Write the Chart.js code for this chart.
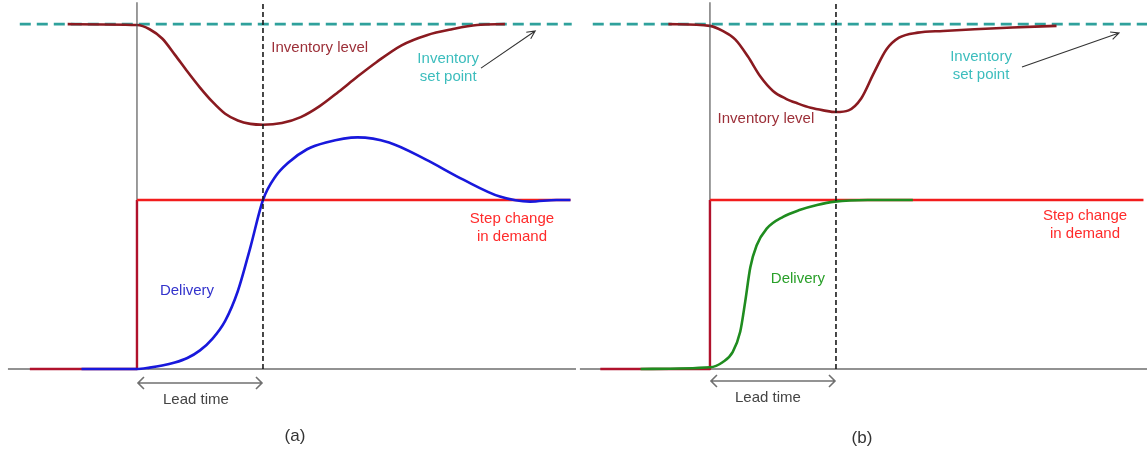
<!DOCTYPE html>
<html>
<head>
<meta charset="utf-8">
<script src="https://cdn.jsdelivr.net/npm/chart.js@4/dist/chart.umd.min.js"></script>
<style>
  html, body { margin: 0; padding: 0; background: #ffffff; }
  #wrap { position: relative; width: 1147px; height: 454px; overflow: hidden; }
  #cA { position: absolute; left: 0; top: 0; }
  #cB { position: absolute; left: 576px; top: 0; }
</style>
</head>
<body>
<div id="wrap">
  <canvas id="cA" width="576" height="454"></canvas>
  <canvas id="cB" width="571" height="454"></canvas>
</div>
<script>
// Time is measured in lead times (demand step at t = 0, deliveries catch up at t = 1).
// Levels are measured in units of the demand step (0 before, 1 after).

const setPoint = 2.04;
const leadTime = 1;

// Panel (a): oscillating delivery response
const invTimeA  = [-0.55, 0, 0.1, 0.2, 0.3, 0.4, 0.5, 0.6, 0.7, 0.8, 0.9, 1.0, 1.15, 1.3, 1.45, 1.6, 1.75, 1.9, 2.1, 2.3, 2.5, 2.7, 2.92];
const invLevelA = [2.04, 2.035, 2.01, 1.955, 1.86, 1.76, 1.665, 1.58, 1.51, 1.47, 1.45, 1.445, 1.455, 1.49, 1.555, 1.64, 1.73, 1.815, 1.915, 1.975, 2.01, 2.035, 2.04];

const delTimeA  = [-0.44, 0, 0.1, 0.2, 0.3, 0.4, 0.5, 0.6, 0.7, 0.8, 0.9, 1.0, 1.1, 1.2, 1.35, 1.5, 1.75, 2.0, 2.29, 2.59, 2.88, 3.12, 3.33, 3.44];
const delLevelA = [0, 0, 0.008, 0.02, 0.038, 0.065, 0.11, 0.18, 0.285, 0.46, 0.72, 1.0, 1.14, 1.22, 1.3, 1.34, 1.37, 1.34, 1.24, 1.12, 1.02, 0.99, 1.0, 1.0];

const stepTimeA  = [-0.85, 0, 0, 3.44];
const stepLevelA = [0, 0, 1, 1];

// Panel (b): smooth first-order delivery response
const invTimeB  = [-0.33, 0, 0.1, 0.2, 0.3, 0.4, 0.5, 0.6, 0.7, 0.8, 0.9, 1.0, 1.1, 1.2, 1.3, 1.4, 1.5, 1.65, 1.85, 2.1, 2.4, 2.75];
const invLevelB = [2.04, 2.03, 2.0, 1.95, 1.85, 1.73, 1.645, 1.6, 1.57, 1.545, 1.53, 1.52, 1.53, 1.6, 1.75, 1.89, 1.96, 1.99, 2.0, 2.01, 2.02, 2.03];

const delTimeB  = [-0.55, 0, 0.1, 0.18, 0.24, 0.28, 0.32, 0.37, 0.45, 0.58, 0.71, 0.85, 0.99, 1.25, 1.61];
const delLevelB = [0, 0.01, 0.04, 0.1, 0.22, 0.4, 0.6, 0.73, 0.83, 0.9, 0.94, 0.97, 0.99, 1.0, 1.0];

const stepTimeB  = [-0.87, 0, 0, 3.44];
const stepLevelB = [0, 0, 1, 1];

const zip = (xs, ys) => xs.map((x, i) => ({ x: x, y: ys[i] }));

const FONT = '"Liberation Sans", Arial, Helvetica, sans-serif';

// Annotation plugin: text labels and arrows placed in data coordinates
const annotate = {
  id: 'annotate',
  afterDatasetsDraw(chart, args, opts) {
    const ctx = chart.ctx;
    const xs = chart.scales.x, ys = chart.scales.y;
    const px = t => xs.getPixelForValue(t);
    const py = v => ys.getPixelForValue(v);
    ctx.save();

    // Lead time double arrow
    const la = opts.leadArrow;
    const x0 = px(0), x1 = px(leadTime), y = py(la.v);
    ctx.strokeStyle = '#707070';
    ctx.lineWidth = 1.6;
    ctx.beginPath();
    ctx.moveTo(x0 + 1, y); ctx.lineTo(x1 - 1, y);
    ctx.moveTo(x0 + 7, y - 6); ctx.lineTo(x0 + 1, y); ctx.lineTo(x0 + 7, y + 6);
    ctx.moveTo(x1 - 7, y - 6); ctx.lineTo(x1 - 1, y); ctx.lineTo(x1 - 7, y + 6);
    ctx.stroke();

    // Pointer from the set point caption to the dashed line
    const sa = opts.setArrow;
    const ax0 = px(sa.t0), ay0 = py(sa.v0), ax1 = px(sa.t1), ay1 = py(sa.v1);
    const ang = Math.atan2(ay1 - ay0, ax1 - ax0);
    ctx.strokeStyle = '#333333';
    ctx.lineWidth = 1.1;
    ctx.beginPath();
    ctx.moveTo(ax0, ay0); ctx.lineTo(ax1, ay1);
    ctx.moveTo(ax1 - 9 * Math.cos(ang - 0.45), ay1 - 9 * Math.sin(ang - 0.45));
    ctx.lineTo(ax1, ay1);
    ctx.lineTo(ax1 - 9 * Math.cos(ang + 0.45), ay1 - 9 * Math.sin(ang + 0.45));
    ctx.stroke();

    // Text labels
    ctx.textAlign = 'center';
    ctx.textBaseline = 'middle';
    opts.labels.forEach(l => {
      ctx.font = (l.size || 15) + 'px ' + FONT;
      ctx.fillStyle = l.color;
      ctx.fillText(l.text, px(l.t), py(l.v));
    });
    ctx.restore();
  }
};

function makeChart(id, panel) {
  const setLine = [{ x: panel.setFrom, y: setPoint }, { x: panel.setTo, y: setPoint }];
  const baseLine = [{ x: panel.baseFrom, y: 0 }, { x: panel.xMax, y: 0 }];
  const solidV = [{ x: 0, y: 0 }, { x: 0, y: 2.17 }];
  const dashV = [{ x: leadTime, y: 0 }, { x: leadTime, y: 2.17 }];

  return new Chart(document.getElementById(id), {
    type: 'line',
    data: {
      datasets: [
        { data: dashV, borderColor: '#1a1a1a', borderWidth: 1.6, borderDash: [5, 3] },
        { data: panel.delivery, borderColor: panel.delColor, borderWidth: 2.6, cubicInterpolationMode: 'monotone' },
        { data: panel.step, borderWidth: 2.4,
          segment: { borderColor: c => (c.p0DataIndex === 2 ? '#f21c1c' : '#b0122c') } },
        { data: solidV, borderColor: '#4a4a4a', borderWidth: 1.1 },
        { data: panel.inventory, borderColor: '#8a1a20', borderWidth: 2.6, cubicInterpolationMode: 'monotone' },
        { data: setLine, borderColor: '#2fa19c', borderWidth: 2.6, borderDash: [11, 6] },
        { data: baseLine, borderColor: '#6e6e6e', borderWidth: 1.6 }
      ]
    },
    options: {
      responsive: false,
      animation: false,
      events: [],
      layout: { padding: 0 },
      elements: { point: { radius: 0 }, line: { tension: 0, fill: false, borderCapStyle: 'butt', borderJoinStyle: 'round' } },
      scales: {
        x: { type: 'linear', display: false, min: panel.xMin, max: panel.xMax },
        y: { type: 'linear', display: false, min: -0.503, max: 2.183 }
      },
      plugins: {
        legend: { display: false },
        tooltip: { enabled: false },
        annotate: {
          leadArrow: { v: panel.leadV },
          setArrow: panel.setArrow,
          labels: panel.labels
        }
      }
    },
    plugins: [annotate]
  });
}

makeChart('cA', {
  xMin: -1.087, xMax: 3.484, baseFrom: -1.024,
  setFrom: -0.93, setTo: 3.45,
  inventory: zip(invTimeA, invLevelA),
  delivery: zip(delTimeA, delLevelA),
  step: zip(stepTimeA, stepLevelA),
  delColor: '#1818dc',
  leadV: -0.083,
  setArrow: { t0: 2.73, v0: 1.78, t1: 3.16, v1: 2.0 },
  labels: [
    { text: 'Inventory level', t: 1.45, v: 1.90, color: '#9c2f38' },
    { text: 'Inventory', t: 2.47, v: 1.834, color: '#3cbdbd' },
    { text: 'set point', t: 2.47, v: 1.728, color: '#3cbdbd' },
    { text: 'Step change', t: 2.976, v: 0.888, color: '#ff2b2b' },
    { text: 'in demand', t: 2.976, v: 0.781, color: '#ff2b2b' },
    { text: 'Delivery', t: 0.397, v: 0.462, color: '#3333cc' },
    { text: 'Lead time', t: 0.468, v: -0.18, color: '#444444' },
    { text: '(a)', t: 1.254, v: -0.40, color: '#333333', size: 17 }
  ]
});

makeChart('cB', {
  xMin: -1.063, xMax: 3.468, baseFrom: -1.032,
  setFrom: -0.93, setTo: 3.47,
  inventory: zip(invTimeB, invLevelB),
  delivery: zip(delTimeB, delLevelB),
  step: zip(stepTimeB, stepLevelB),
  delColor: '#1f8c1f',
  leadV: -0.071,
  setArrow: { t0: 2.476, v0: 1.787, t1: 3.246, v1: 1.988 },
  labels: [
    { text: 'Inventory level', t: 0.444, v: 1.479, color: '#9c2f38' },
    { text: 'Inventory', t: 2.151, v: 1.846, color: '#3cbdbd' },
    { text: 'set point', t: 2.151, v: 1.740, color: '#3cbdbd' },
    { text: 'Step change', t: 2.976, v: 0.905, color: '#ff2b2b' },
    { text: 'in demand', t: 2.976, v: 0.799, color: '#ff2b2b' },
    { text: 'Delivery', t: 0.698, v: 0.533, color: '#2aa02a' },
    { text: 'Lead time', t: 0.460, v: -0.172, color: '#444444' },
    { text: '(b)', t: 1.206, v: -0.408, color: '#333333', size: 17 }
  ]
});
</script>
</body>
</html>
